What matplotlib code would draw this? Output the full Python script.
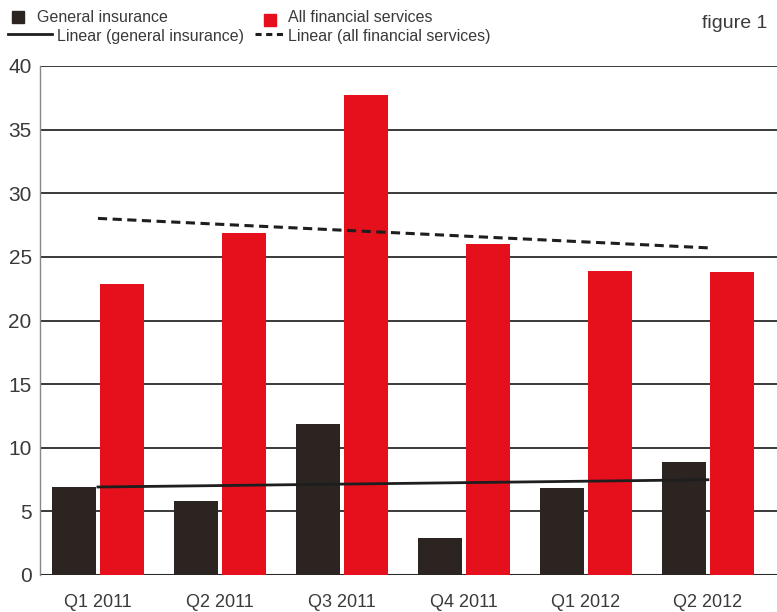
import numpy as np
import matplotlib
matplotlib.use("Agg")
import matplotlib.pyplot as plt
from matplotlib.patches import Rectangle
from matplotlib.lines import Line2D

# Quarterly figures for general insurance vs all financial services
quarters = ["Q1 2011", "Q2 2011", "Q3 2011", "Q4 2011", "Q1 2012", "Q2 2012"]
general_insurance = [6.9, 5.8, 11.9, 2.9, 6.8, 8.9]
all_financial = [22.9, 26.9, 37.7, 26.0, 23.9, 23.8]
y_ticks = [0, 5, 10, 15, 20, 25, 30, 35, 40]

BLACK = "#2b2421"
RED = "#e5101c"
TEXT = "#3a3a3a"

plt.rcParams["font.family"] = ["Liberation Sans", "DejaVu Sans"]

W, H = 777, 612
fig = plt.figure(figsize=(W / 100, H / 100), dpi=100)
ax = fig.add_axes([40 / W, 1 - 575 / H, 1 - 40 / W, (575 - 66) / H])

x = np.arange(len(quarters))
width = 0.36

# Gridlines first so the bars sit on top of them
ax.set_yticks(y_ticks)
ax.yaxis.grid(True, color="#2a2a2a", linewidth=1.3)
ax.set_axisbelow(True)

ax.bar(x - 0.2, general_insurance, width, color=BLACK, zorder=2)
ax.bar(x + 0.2, all_financial, width, color=RED, zorder=2)

# Linear trend lines fitted to each series
gi_fit = np.polyval(np.polyfit(x, general_insurance, 1), x)
af_fit = np.polyval(np.polyfit(x, all_financial, 1), x)
ax.plot(x, gi_fit, color="#1e1e1e", linewidth=2.0, zorder=3)
ax.plot(x, af_fit, color="#1e1e1e", linewidth=2.2,
        linestyle=(0, (3, 1.8)), zorder=3)

ax.set_xlim(-0.475, 5.566)
ax.set_ylim(0, 40)
ax.set_xticks(x)
ax.set_xticklabels(quarters, fontsize=13, color=TEXT)
ax.tick_params(axis="x", length=0, pad=14)
ax.tick_params(axis="y", length=0, pad=6, labelsize=15, labelcolor=TEXT)

for side in ["top", "right", "bottom"]:
    ax.spines[side].set_visible(False)
ax.spines["left"].set_color("#888888")
ax.spines["left"].set_linewidth(1.0)
ax.axhline(0, color="#2a2a2a", linewidth=1.5, zorder=1)


def fx(px):
    return px / W


def fy(py):
    return 1 - py / H


# Legend drawn in figure space
fig.add_artist(Rectangle((fx(12), fy(23)), 12 / W, 12 / H,
                         transform=fig.transFigure, color=BLACK))
fig.text(fx(37), fy(17), "General insurance", fontsize=11.5,
         color=TEXT, va="center")
fig.add_artist(Rectangle((fx(264), fy(26)), 12 / W, 12 / H,
                         transform=fig.transFigure, color=RED))
fig.text(fx(288), fy(18), "All financial services", fontsize=11.5,
         color=TEXT, va="center")

fig.add_artist(Line2D([fx(8), fx(52)], [fy(34), fy(34)],
                      transform=fig.transFigure, color="#1e1e1e",
                      linewidth=2.0))
fig.text(fx(57), fy(36), "Linear (general insurance)", fontsize=11.5,
         color=TEXT, va="center")
fig.add_artist(Line2D([fx(255), fx(285)], [fy(34), fy(34)],
                      transform=fig.transFigure, color="#1e1e1e",
                      linewidth=2.2, linestyle=(0, (2, 1.5))))
fig.text(fx(288), fy(36), "Linear (all financial services)", fontsize=11.5,
         color=TEXT, va="center")

fig.text(fx(702), fy(24), "figure 1", fontsize=14, color=TEXT, va="center")

fig.savefig("out.png", dpi=100)
